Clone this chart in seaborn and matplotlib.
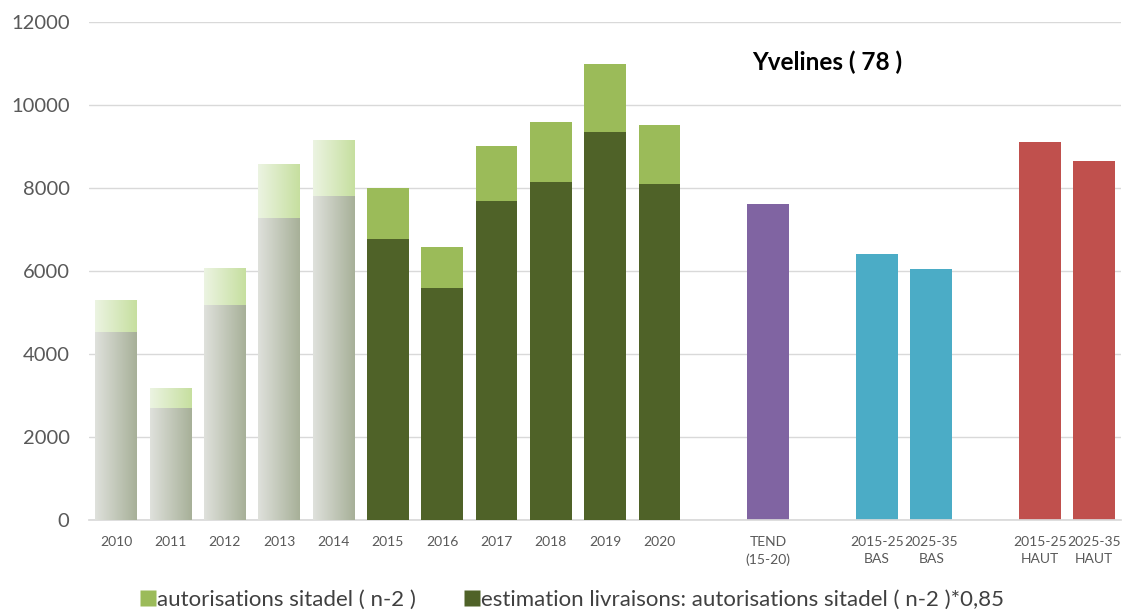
import numpy as np
import pandas as pd
import matplotlib
matplotlib.use("Agg")
import matplotlib.pyplot as plt
from matplotlib.colors import LinearSegmentedColormap
from matplotlib.lines import Line2D
import seaborn as sns

# Categories (with empty slots that separate the groups)
categories = ["2010", "2011", "2012", "2013", "2014", "2015", "2016", "2017",
              "2018", "2019", "2020", "gap1", "TEND", "gap2", "BAS1", "BAS2",
              "gap3", "HAUT1", "HAUT2"]
tick_labels = ["2010", "2011", "2012", "2013", "2014", "2015", "2016", "2017",
               "2018", "2019", "2020", "", "TEND\n(15-20)", "", "2015-25\nBAS",
               "2025-35\nBAS", "", "2015-25\nHAUT", "2025-35\nHAUT"]

years = ["2010", "2011", "2012", "2013", "2014", "2015", "2016", "2017",
         "2018", "2019", "2020"]
autorisations = [5300, 3160, 6070, 8560, 9160, 8000, 6580, 9010, 9590, 10990, 9520]
livraisons = [4530, 2680, 5160, 7280, 7790, 6780, 5590, 7680, 8150, 9340, 8100]

scenarios = ["TEND", "BAS1", "BAS2", "HAUT1", "HAUT2"]
scenario_values = [7610, 6410, 6050, 9100, 8640]

light_green = "#9bbb59"
dark_green = "#4f6228"
scenario_colors = {"TEND": "#8064a2", "BAS1": "#4bacc6", "BAS2": "#4bacc6",
                   "HAUT1": "#c0504d", "HAUT2": "#c0504d"}
faded_years = ["2010", "2011", "2012", "2013", "2014"]

sns.set_theme(style="white")
plt.rcParams["font.family"] = ["Lato", "DejaVu Sans"]

fig = plt.figure(figsize=(11.26, 6.13), dpi=100)
ax = fig.add_axes([0.079, 0.152, 0.917, 0.812])

totals = pd.DataFrame({"cat": years + scenarios,
                       "val": autorisations + scenario_values})
lower = pd.DataFrame({"cat": years, "val": livraisons})

pal_tot = {c: light_green for c in years}
pal_tot.update(scenario_colors)
sns.barplot(data=totals, x="cat", y="val", hue="cat", order=categories,
            palette=pal_tot, width=0.77, saturation=1, legend=False, ax=ax,
            zorder=2)
n_tot = len(ax.patches)
sns.barplot(data=lower, x="cat", y="val", hue="cat", order=categories,
            palette={c: dark_green for c in years}, width=0.77, saturation=1,
            legend=False, ax=ax, zorder=3)

# Horizontal gradients for the earliest years
grad_top = LinearSegmentedColormap.from_list("gt", ["#ecf4e2", "#c6df9f"])
grad_low = LinearSegmentedColormap.from_list("gl", ["#dfe1dc", "#a7b098"])
gradient = np.linspace(0, 1, 256).reshape(1, -1)

patches = list(ax.patches)
for i, p in enumerate(patches):
    if p.get_height() == 0 or np.isnan(p.get_height()):
        continue
    xc = p.get_x() + p.get_width() / 2
    idx = int(round(xc))
    if categories[idx] in faded_years:
        cmap = grad_top if i < n_tot else grad_low
        p.set_facecolor("none")
        p.set_edgecolor("none")
        x0, w = p.get_x(), p.get_width()
        y0, h = p.get_y(), p.get_height()
        ax.imshow(gradient, cmap=cmap, aspect="auto",
                  extent=[x0, x0 + w, y0, y0 + h],
                  zorder=p.get_zorder(), interpolation="bilinear")
    else:
        p.set_edgecolor("none")

ax.set_xlim(-0.5, 18.5)
ax.set_ylim(0, 12000)
ax.set_yticks(np.arange(0, 12001, 2000))
ax.set_xticks(range(len(categories)))
ax.set_xticklabels(tick_labels, fontsize=10, color="#595959", linespacing=1.45)
ax.tick_params(axis="y", labelsize=14.5, colors="#595959", length=0, pad=14)
ax.tick_params(axis="x", length=0, pad=12)
ax.grid(axis="y", color="#d9d9d9", linewidth=1, zorder=0)
ax.set_axisbelow(True)
for s in ["left", "right", "top"]:
    ax.spines[s].set_visible(False)
ax.spines["bottom"].set_color("#d9d9d9")
ax.set_xlabel("")
ax.set_ylabel("")

ax.text(13.08, 11020, "Yvelines ( 78 )", fontsize=17.5, fontweight="bold",
        color="black", ha="center", va="center")

handles = [Line2D([], [], marker="s", linestyle="none", markersize=11,
                  markerfacecolor=light_green, markeredgecolor="none"),
           Line2D([], [], marker="s", linestyle="none", markersize=11,
                  markerfacecolor=dark_green, markeredgecolor="none")]
fig.legend(handles, ["autorisations sitadel ( n-2 )",
                     "estimation livraisons: autorisations sitadel ( n-2 )*0,85"],
           loc="center", bbox_to_anchor=(0.508, 0.021), ncol=2, frameon=False,
           fontsize=16, handletextpad=0.05, columnspacing=2.2,
           labelcolor="#404040", handlelength=0.7)

fig.savefig("out.png", dpi=100)
